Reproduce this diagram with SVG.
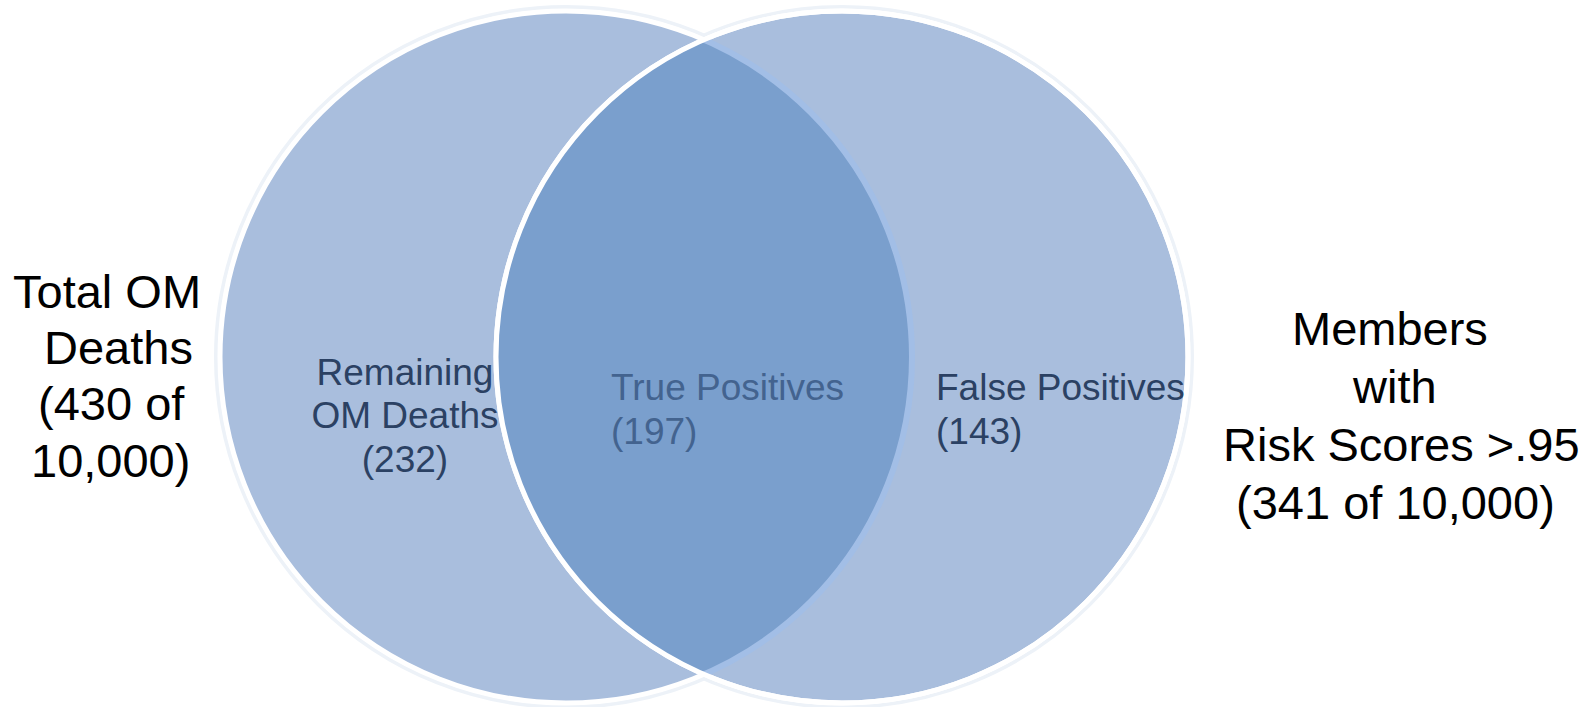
<svg xmlns="http://www.w3.org/2000/svg" width="1595" height="707" viewBox="0 0 1595 707">
  <style>
    .outer { font-family: "Liberation Sans", Arial, sans-serif; font-size: 47px; fill: #000000; }
    .inner { font-family: "Liberation Sans", Arial, sans-serif; font-size: 37px; }
    .dark { fill: #2b4163; }
    .mid { fill: #43638f; }
    .set { fill: #a9bedd; stroke: #ffffff; stroke-width: 5; }
    .halo { fill: none; stroke: #edf2f8; stroke-width: 4; }
  </style>
  <defs>
    <clipPath id="clipRight"><circle cx="842" cy="357" r="346"/></clipPath>
  </defs>
  <rect width="1595" height="707" fill="#ffffff"/>

  <g id="halo">
    <circle class="halo" cx="566" cy="357" r="350"/>
    <circle class="halo" cx="842" cy="357" r="350"/>
  </g>

  <g id="set-left">
    <circle class="set" cx="566" cy="357" r="346"/>
  </g>
  <g id="set-right">
    <circle class="set" cx="842" cy="357" r="346"/>
  </g>
  <g id="overlap">
    <circle cx="566" cy="357" r="346" fill="#7a9fcd" clip-path="url(#clipRight)"/>
    <circle cx="566" cy="357" r="346" fill="none" stroke="#a2bee6" stroke-width="6" clip-path="url(#clipRight)"/>
    <circle cx="842" cy="357" r="346" fill="none" stroke="#ffffff" stroke-width="5"/>
  </g>

  <g id="label-total">
    <text class="outer" x="13" y="308">Total OM</text>
    <text class="outer" x="44" y="364">Deaths</text>
    <text class="outer" x="38" y="420">(430 of</text>
    <text class="outer" x="31" y="477">10,000)</text>
  </g>

  <g id="label-members">
    <text class="outer" x="1292" y="345">Members</text>
    <text class="outer" x="1353" y="403">with</text>
    <text class="outer" x="1223" y="461">Risk Scores &gt;.95</text>
    <text class="outer" x="1236" y="519">(341 of 10,000)</text>
  </g>

  <g id="label-remaining" text-anchor="middle">
    <text class="inner dark" x="405" y="385">Remaining</text>
    <text class="inner dark" x="405" y="428">OM Deaths</text>
    <text class="inner dark" x="405" y="472">(232)</text>
  </g>

  <g id="label-true">
    <text class="inner mid" x="611" y="400">True Positives</text>
    <text class="inner mid" x="611" y="444">(197)</text>
  </g>

  <g id="label-false">
    <text class="inner dark" x="936" y="400">False Positives</text>
    <text class="inner dark" x="936" y="444">(143)</text>
  </g>
</svg>
